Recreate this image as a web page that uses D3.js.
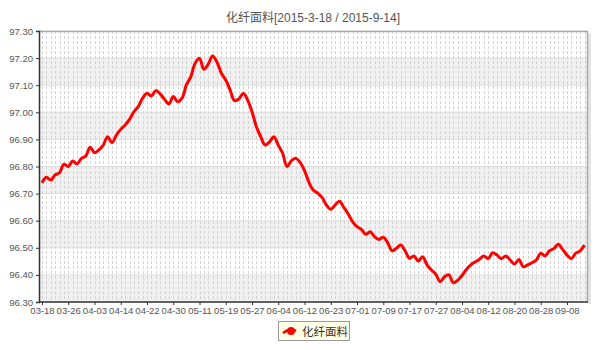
<!DOCTYPE html>
<html>
<head>
<meta charset="utf-8">
<script src="https://cdn.jsdelivr.net/npm/d3@7"></script>
<style>
body { margin: 0; background: #fff; }
text { font-family: "Liberation Sans", Arial, "Noto Sans CJK SC", sans-serif; }
</style>
</head>
<body>
<svg id="chart" width="600" height="350"></svg>
<script>

var title = '化纤面料[2015-3-18 / 2015-9-14]';
var seriesName = '化纤面料';

// trading days (one point each)
var dates = ['03-18','03-19','03-20','03-23','03-24','03-25','03-26','03-27','03-30','03-31',
	'04-01','04-02','04-03','04-07','04-08','04-09','04-10','04-13','04-14','04-15',
	'04-16','04-17','04-20','04-21','04-22','04-23','04-24','04-27','04-28','04-29',
	'04-30','05-04','05-05','05-06','05-07','05-08','05-11','05-12','05-13','05-14',
	'05-15','05-18','05-19','05-20','05-21','05-22','05-25','05-26','05-27','05-28',
	'05-29','06-01','06-02','06-03','06-04','06-05','06-08','06-09','06-10','06-11',
	'06-12','06-15','06-16','06-17','06-18','06-19','06-23','06-24','06-25','06-26',
	'06-29','06-30','07-01','07-02','07-03','07-06','07-07','07-08','07-09','07-10',
	'07-13','07-14','07-15','07-16','07-17','07-20','07-21','07-22','07-23','07-24',
	'07-27','07-28','07-29','07-30','07-31','08-03','08-04','08-05','08-06','08-07',
	'08-10','08-11','08-12','08-13','08-14','08-17','08-18','08-19','08-20','08-21',
	'08-24','08-25','08-26','08-27','08-28','08-31','09-01','09-02','09-06','09-07',
	'09-08','09-09','09-10','09-11','09-14'];

var values = [96.740,96.760,96.750,96.769,96.777,96.808,96.800,96.820,96.809,96.830,
	96.839,96.871,96.851,96.861,96.879,96.910,96.888,96.916,96.937,96.953,
	96.974,97.002,97.021,97.052,97.070,97.060,97.080,97.068,97.048,97.031,
	97.058,97.039,97.052,97.101,97.131,97.181,97.199,97.159,97.178,97.208,
	97.185,97.144,97.119,97.082,97.043,97.049,97.070,97.045,97.002,96.947,
	96.910,96.879,96.891,96.910,96.879,96.849,96.800,96.821,96.830,96.815,
	96.785,96.742,96.713,96.702,96.686,96.658,96.642,96.658,96.672,96.649,
	96.625,96.596,96.578,96.568,96.550,96.559,96.541,96.531,96.539,96.519,
	96.489,96.498,96.510,96.489,96.461,96.470,96.451,96.467,96.437,96.418,
	96.403,96.375,96.393,96.400,96.371,96.380,96.398,96.420,96.437,96.448,
	96.458,96.470,96.460,96.482,96.473,96.460,96.470,96.455,96.440,96.457,
	96.430,96.437,96.445,96.455,96.480,96.470,96.489,96.497,96.513,96.494,
	96.473,96.460,96.480,96.489,96.510];

var yTicks = [96.3,96.4,96.5,96.6,96.7,96.8,96.9,97.0,97.1,97.2,97.3];
var xTickIdx = [0,6,12,18,24,30,36,42,48,54,60,66,72,78,84,90,96,102,108,114,120];

var plotLeft = 39, plotRight = 588, plotTop = 31, plotBottom = 302;

var svg = d3.select('#chart');

var xScale = d3.scaleLinear()
	.domain([0, values.length - 1])
	.range([plotLeft + 3, plotRight - 3.5]);

var yScale = d3.scaleLinear()
	.domain([96.3, 97.3])
	.range([plotBottom, plotTop]);

// title
svg.append('text')
	.attr('x', 313).attr('y', 22)
	.attr('text-anchor', 'middle')
	.attr('font-size', 12)
	.attr('fill', '#555')
	.text(title);

// shadow + plot background
svg.append('rect')
	.attr('x', plotRight).attr('y', plotTop + 2).attr('width', 3).attr('height', plotBottom - plotTop)
	.attr('fill', '#e4e4e4');
svg.append('rect')
	.attr('x', plotLeft).attr('y', plotTop).attr('width', plotRight - plotLeft).attr('height', plotBottom - plotTop)
	.attr('fill', '#fff');

// alternating bands
var bands = [];
for (var i = 0; i < yTicks.length - 1; i += 2) bands.push(yTicks[i]);
svg.append('g').selectAll('rect')
	.data(bands)
	.enter().append('rect')
	.attr('x', plotLeft)
	.attr('width', plotRight - plotLeft)
	.attr('y', function(d){ return yScale(d + 0.1); })
	.attr('height', function(d){ return yScale(d) - yScale(d + 0.1); })
	.attr('fill', '#f0f0f0');

// vertical dashed grid, one per day
svg.append('g').selectAll('line')
	.data(dates)
	.enter().append('line')
	.attr('x1', function(d, i){ return Math.round(xScale(i)) + 0.5; })
	.attr('x2', function(d, i){ return Math.round(xScale(i)) + 0.5; })
	.attr('y1', plotTop).attr('y2', plotBottom)
	.attr('stroke', '#d4d4d4')
	.attr('stroke-dasharray', '3,2');

// horizontal grid
svg.append('g').selectAll('line')
	.data(yTicks)
	.enter().append('line')
	.attr('x1', plotLeft).attr('x2', plotRight)
	.attr('y1', function(d){ return yScale(d); })
	.attr('y2', function(d){ return yScale(d); })
	.attr('stroke', '#dcdcdc');

// frame top/right
svg.append('path')
	.attr('d', 'M' + plotLeft + ',' + (plotTop + 0.5) + 'H' + (plotRight - 0.5) + 'V' + plotBottom)
	.attr('fill', 'none')
	.attr('stroke', '#aaa')
	.attr('stroke-width', 1.5);

// line
var lineGen = d3.line()
	.x(function(d, i){ return xScale(i); })
	.y(function(d){ return yScale(d); })
	.curve(d3.curveCatmullRom);

svg.append('path')
	.datum(values)
	.attr('fill', 'none')
	.attr('stroke', '#ff0000')
	.attr('stroke-width', 3)
	.attr('stroke-linejoin', 'round')
	.attr('d', lineGen);

// axes
var yAxisGen = d3.axisLeft(yScale)
	.tickValues(yTicks)
	.tickFormat(d3.format('.2f'))
	.tickSize(3)
	.tickPadding(3);

var xAxisGen = d3.axisBottom(xScale)
	.tickValues(xTickIdx)
	.tickFormat(function(i){ return dates[i]; })
	.tickSize(3)
	.tickPadding(2);

var yAxis = svg.append('g')
	.attr('transform', 'translate(' + plotLeft + ',0)')
	.call(yAxisGen);

var xAxis = svg.append('g')
	.attr('transform', 'translate(0,' + plotBottom + ')')
	.call(xAxisGen);

[yAxis, xAxis].forEach(function(ax){
	ax.select('.domain').attr('stroke', '#333').attr('stroke-width', 1.5);
	ax.selectAll('.tick line').attr('stroke', '#333');
	ax.selectAll('.tick text')
		.attr('fill', '#555')
		.attr('font-size', 9.5);
});
xAxis.select('.domain').attr('d', 'M' + plotLeft + ',0H' + plotRight);

// legend
var legend = svg.append('g').attr('transform', 'translate(278,321)');
legend.append('rect')
	.attr('x', 0.5).attr('y', 0.5).attr('width', 71).attr('height', 19)
	.attr('fill', '#ffffe6')
	.attr('stroke', '#999');
legend.append('path')
	.attr('d', 'M5,12 Q11,7 18,10')
	.attr('fill', 'none')
	.attr('stroke', '#ff0000')
	.attr('stroke-width', 2.5);
legend.append('circle')
	.attr('cx', 13).attr('cy', 10).attr('r', 4)
	.attr('fill', '#ff0000');
legend.append('text')
	.attr('x', 24).attr('y', 14.5)
	.attr('font-size', 11.5)
	.attr('fill', '#333')
	.text(seriesName);

</script>
</body>
</html>
